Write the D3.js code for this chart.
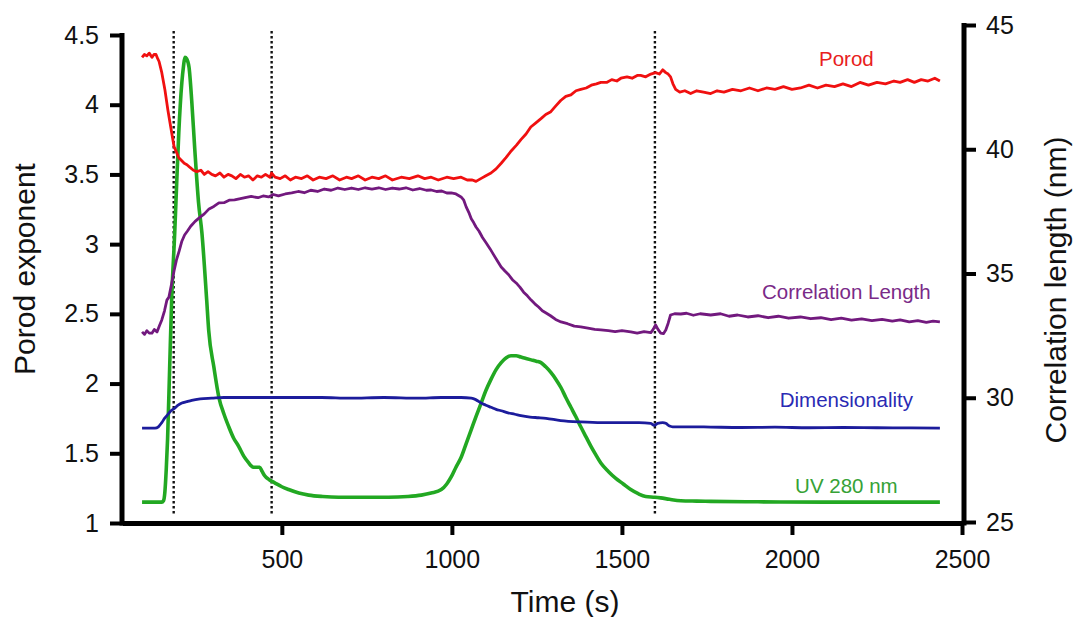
<!DOCTYPE html>
<html>
<head lang="en">
	<meta charset="UTF-8">
	<title>Porod exponent and correlation length vs time</title>
	<script src="https://cdn.jsdelivr.net/npm/d3@7"></script>
	<style>
		body { margin: 0; background: #fff; }
		text { font-family: Arial, "Liberation Sans", sans-serif; }
	</style>
</head>
<body>

<script>

	// time (s), value pairs
	var porod = [[89,4.34],[96,4.36],[103,4.35],[110,4.37],[118,4.34],[124,4.36],[130,4.36],[135,4.33],[139,4.31],[147,4.23],[156,4.11],[165,3.96],[174,3.83],[183,3.70],[190,3.66],[197,3.62],[205,3.60],[213,3.58],[221,3.57],[230,3.55],[240,3.53],[250,3.52],[262,3.53],[272,3.50],[283,3.52],[294,3.50],[305,3.49],[318,3.51],[330,3.48],[342,3.50],[353,3.49],[365,3.47],[378,3.50],[390,3.48],[402,3.49],[415,3.46],[428,3.49],[440,3.48],[452,3.50],[465,3.48],[470,3.51],[480,3.48],[495,3.47],[510,3.49],[525,3.46],[540,3.48],[558,3.47],[575,3.49],[592,3.46],[610,3.48],[630,3.47],[650,3.49],[670,3.46],[690,3.48],[705,3.47],[725,3.49],[745,3.46],[765,3.48],[785,3.47],[805,3.49],[825,3.46],[851,3.48],[875,3.47],[900,3.49],[920,3.47],[939,3.48],[960,3.46],[985,3.48],[1005,3.47],[1027,3.48],[1045,3.46],[1060,3.46],[1071,3.45],[1085,3.47],[1100,3.49],[1115,3.51],[1130,3.54],[1145,3.58],[1159,3.62],[1175,3.67],[1190,3.71],[1203,3.75],[1218,3.79],[1232,3.84],[1247,3.87],[1262,3.90],[1276,3.93],[1291,3.95],[1305,3.99],[1320,4.03],[1335,4.06],[1350,4.07],[1365,4.10],[1379,4.11],[1395,4.12],[1410,4.14],[1425,4.15],[1438,4.16],[1455,4.16],[1470,4.18],[1485,4.17],[1497,4.19],[1515,4.20],[1530,4.19],[1545,4.21],[1555,4.21],[1570,4.20],[1585,4.22],[1599,4.23],[1610,4.22],[1620,4.25],[1629,4.23],[1636,4.22],[1643,4.20],[1650,4.15],[1658,4.11],[1670,4.09],[1685,4.10],[1702,4.08],[1720,4.10],[1740,4.09],[1761,4.08],[1780,4.10],[1800,4.09],[1825,4.11],[1850,4.10],[1875,4.12],[1900,4.10],[1925,4.12],[1950,4.11],[1975,4.13],[2000,4.11],[2025,4.12],[2050,4.14],[2075,4.12],[2100,4.14],[2125,4.13],[2150,4.15],[2175,4.13],[2200,4.16],[2225,4.14],[2250,4.16],[2275,4.15],[2300,4.17],[2318,4.16],[2340,4.18],[2360,4.16],[2380,4.18],[2400,4.17],[2420,4.19],[2435,4.17]];

	// correlation length in nm (right axis)
	var corrLength = [[89,32.65],[96,32.55],[103,32.7],[110,32.6],[118,32.6],[125,32.75],[133,32.65],[140,32.9],[147,33.13],[155,33.5],[162,33.93],[168,34.05],[176,34.6],[183,35.1],[190,35.54],[198,35.9],[206,36.3],[214,36.55],[222,36.7],[232,36.9],[245,37.1],[258,37.25],[272,37.4],[286,37.6],[300,37.7],[315,37.84],[330,37.85],[345,37.95],[361,37.96],[375,38.0],[392,38.05],[410,38.1],[430,38.05],[445,38.12],[461,38.08],[475,38.18],[490,38.12],[510,38.2],[529,38.24],[548,38.3],[566,38.25],[585,38.35],[605,38.3],[625,38.4],[645,38.35],[665,38.44],[685,38.38],[705,38.44],[725,38.38],[745,38.45],[765,38.4],[785,38.45],[805,38.38],[825,38.44],[845,38.4],[865,38.45],[885,38.36],[905,38.42],[925,38.35],[939,38.36],[955,38.3],[970,38.32],[985,38.24],[998,38.24],[1012,38.2],[1027,38.08],[1035,37.95],[1042,37.68],[1050,37.45],[1057,37.2],[1064,37.05],[1071,36.87],[1080,36.7],[1090,36.45],[1101,36.23],[1112,36.0],[1123,35.75],[1134,35.5],[1145,35.26],[1156,35.1],[1167,34.95],[1178,34.75],[1189,34.62],[1200,34.45],[1211,34.25],[1222,34.1],[1233,33.93],[1244,33.78],[1255,33.65],[1266,33.5],[1277,33.41],[1290,33.3],[1305,33.15],[1321,33.05],[1340,32.98],[1360,32.88],[1379,32.85],[1400,32.8],[1420,32.75],[1438,32.73],[1460,32.7],[1480,32.66],[1500,32.7],[1526,32.65],[1545,32.6],[1565,32.66],[1585,32.62],[1592,32.75],[1599,32.93],[1606,32.75],[1614,32.6],[1622,32.58],[1629,32.73],[1636,33.0],[1643,33.33],[1655,33.38],[1673,33.37],[1690,33.4],[1710,33.32],[1730,33.38],[1761,33.33],[1790,33.38],[1815,33.28],[1840,33.33],[1870,33.25],[1900,33.3],[1930,33.22],[1960,33.28],[1990,33.2],[2025,33.25],[2055,33.18],[2085,33.22],[2115,33.14],[2145,33.2],[2175,33.12],[2205,33.17],[2235,33.1],[2265,33.15],[2295,33.08],[2318,33.13],[2345,33.05],[2370,33.1],[2395,33.03],[2415,33.08],[2435,33.05]];

	var dimensionality = [[89,1.68],[110,1.68],[127,1.68],[137,1.69],[147,1.72],[155,1.75],[162,1.77],[172,1.80],[183,1.82],[195,1.845],[206,1.86],[220,1.87],[235,1.88],[260,1.89],[294,1.895],[330,1.90],[382,1.90],[450,1.90],[520,1.90],[617,1.90],[700,1.895],[800,1.90],[900,1.895],[969,1.90],[1027,1.90],[1057,1.895],[1070,1.885],[1086,1.86],[1100,1.845],[1115,1.83],[1130,1.815],[1145,1.805],[1165,1.79],[1185,1.78],[1203,1.77],[1230,1.76],[1255,1.755],[1277,1.75],[1320,1.735],[1379,1.725],[1440,1.72],[1497,1.72],[1550,1.72],[1585,1.715],[1595,1.70],[1605,1.715],[1620,1.72],[1629,1.715],[1640,1.695],[1649,1.69],[1700,1.69],[1761,1.688],[1850,1.685],[1950,1.687],[2050,1.683],[2150,1.685],[2250,1.683],[2350,1.682],[2435,1.68]];

	var uv280 = [[89,1.15],[120,1.15],[147,1.15],[152,1.16],[156,1.22],[160,1.38],[164,1.60],[170,2.1],[176,2.60],[185,3.08],[191,3.45],[197,3.80],[206,4.16],[211,4.28],[215,4.34],[220,4.33],[227,4.27],[235,4.03],[244,3.68],[255,3.30],[265,3.08],[279,2.60],[285,2.38],[300,2.12],[315,1.90],[330,1.78],[344,1.69],[358,1.61],[373,1.55],[388,1.48],[403,1.43],[410,1.41],[417,1.40],[428,1.40],[435,1.40],[442,1.37],[449,1.34],[463,1.31],[478,1.29],[500,1.26],[520,1.24],[550,1.215],[579,1.20],[620,1.19],[667,1.185],[740,1.185],[813,1.185],[870,1.19],[910,1.20],[939,1.215],[969,1.24],[985,1.28],[998,1.33],[1012,1.40],[1027,1.47],[1042,1.57],[1057,1.67],[1072,1.77],[1086,1.86],[1100,1.95],[1115,2.03],[1130,2.10],[1145,2.15],[1160,2.185],[1174,2.20],[1189,2.20],[1203,2.19],[1218,2.18],[1233,2.17],[1248,2.16],[1262,2.15],[1276,2.12],[1291,2.08],[1306,2.03],[1321,1.97],[1335,1.90],[1350,1.83],[1365,1.76],[1379,1.69],[1394,1.62],[1409,1.55],[1423,1.49],[1438,1.43],[1460,1.37],[1482,1.32],[1504,1.28],[1526,1.24],[1548,1.21],[1570,1.19],[1597,1.185],[1614,1.18],[1640,1.17],[1673,1.16],[1720,1.157],[1761,1.155],[1900,1.152],[2100,1.15],[2300,1.15],[2435,1.15]];

	// dotted vertical markers (s)
	var markers = [182, 470, 1597];

	var xTicks = [500, 1000, 1500, 2000, 2500];
	var leftTicks = [1, 1.5, 2, 2.5, 3, 3.5, 4, 4.5];
	var rightTicks = [25, 30, 35, 40, 45];

	// series labels, placed at a time and a left-axis value
	var labels = [
		{ text: 'Porod', color: '#e8201c', t: 2160, v: 4.28 },
		{ text: 'Correlation Length', color: '#7a2a88', t: 2160, v: 2.61 },
		{ text: 'Dimensionality', color: '#2a2ab4', t: 2160, v: 1.835 },
		{ text: 'UV 280 nm', color: '#36a236', t: 2160, v: 1.215 }
	];

	var W = 1075, H = 617;
	var svg = d3.select('body').append('svg').attr('width', W).attr('height', H);

	var x = d3.scaleLinear().domain([30, 2500]).range([122, 962]);
	var yL = d3.scaleLinear().domain([1, 4.5]).range([523, 35]);
	var yR = d3.scaleLinear().domain([25, 45]).range([522, 25]);

	// dotted markers
	svg.append('g').selectAll('line').data(markers).enter().append('line')
			.attr('x1', function (d) { return x(d); })
			.attr('x2', function (d) { return x(d); })
			.attr('y1', 31).attr('y2', 516)
			.style('stroke', '#111')
			.style('stroke-width', 2.4)
			.style('stroke-dasharray', '2.5,2.5');

	function drawSeries(data, yScale, color, width, curve) {
		var line = d3.line()
				.x(function (d) { return x(d[0]); })
				.y(function (d) { return yScale(d[1]); })
				.curve(curve);
		svg.append('path').datum(data)
				.attr('d', line)
				.style('fill', 'none')
				.style('stroke', color)
				.style('stroke-width', width)
				.style('stroke-linejoin', 'round');
	}

	drawSeries(uv280, yL, '#22a822', 3.6, d3.curveMonotoneX);
	drawSeries(dimensionality, yL, '#1c1c9c', 2.8, d3.curveMonotoneX);
	drawSeries(corrLength, yR, '#72197e', 2.8, d3.curveLinear);
	drawSeries(porod, yL, '#f01010', 2.8, d3.curveLinear);

	svg.append('g').selectAll('text').data(labels).enter().append('text')
			.attr('x', function (d) { return x(d.t); })
			.attr('y', function (d) { return yL(d.v); })
			.attr('text-anchor', 'middle')
			.style('font-size', '20.5px')
			.style('fill', function (d) { return d.color; })
			.text(function (d) { return d.text; });

	// axes
	function styleAxis(g) {
		g.select('.domain').style('stroke', '#000').style('stroke-width', 5);
		g.selectAll('.tick line').style('stroke', '#000').style('stroke-width', 4);
		g.selectAll('.tick text').style('font-size', '25px').style('fill', '#111')
				.style('font-family', 'Arial, "Liberation Sans", sans-serif');
	}

	var gx = svg.append('g').attr('transform', 'translate(0,523)')
			.call(d3.axisBottom(x).tickValues(xTicks).tickSize(12).tickSizeOuter(0).tickPadding(15).tickFormat(d3.format('d')));
	styleAxis(gx);

	var gl = svg.append('g').attr('transform', 'translate(122,0)')
			.call(d3.axisLeft(yL).tickValues(leftTicks).tickSize(12).tickSizeOuter(0).tickPadding(11).tickFormat(d3.format('~g')));
	styleAxis(gl);
	gl.select('.domain').attr('d', 'M0,33V525.5');

	var gr = svg.append('g').attr('transform', 'translate(964,0)')
			.call(d3.axisRight(yR).tickValues(rightTicks).tickSize(12).tickSizeOuter(0).tickPadding(10).tickFormat(d3.format('d')));
	styleAxis(gr);
	gr.select('.domain').attr('d', 'M0,23V525.5');

	// axis titles
	svg.append('text').attr('x', 565).attr('y', 612).attr('text-anchor', 'middle')
			.style('font-size', '30px').style('fill', '#111').text('Time (s)');
	svg.append('text').attr('transform', 'translate(35,269) rotate(-90)').attr('text-anchor', 'middle')
			.style('font-size', '30px').style('fill', '#111').text('Porod exponent');
	svg.append('text').attr('transform', 'translate(1066,290) rotate(-90)').attr('text-anchor', 'middle')
			.style('font-size', '30px').style('fill', '#111').text('Correlation length (nm)');

</script>


</body>
</html>
